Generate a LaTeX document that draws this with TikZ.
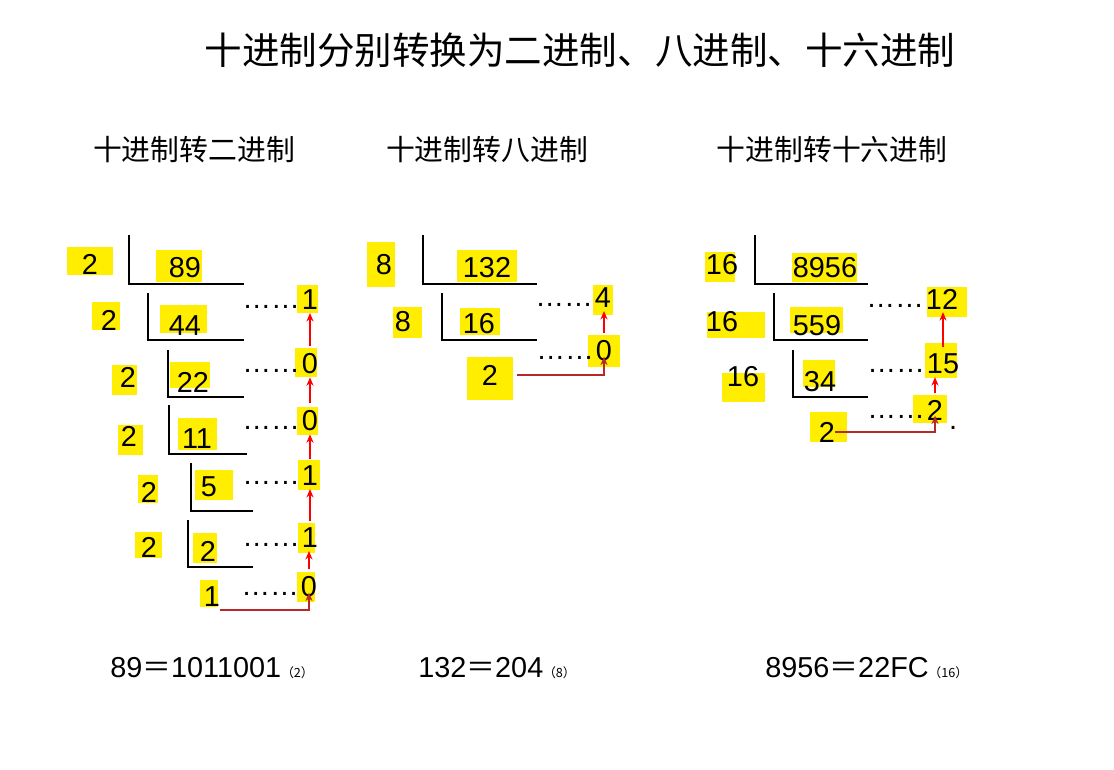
\documentclass[tikz,border=0pt]{standalone}
\usepackage{fontspec}
\setmainfont{Liberation Sans}
\newfontfamily\cjk{Noto Sans CJK SC}
\usepackage{tikz}
\usetikzlibrary{arrows, arrows.meta, shapes}
\definecolor{marker}{RGB}{255,238,0}
\definecolor{backline}{RGB}{185,40,40}
\newcommand{\numsize}{\fontsize{20.5}{24}\selectfont}
\newcommand{\basesize}{\cjk\fontsize{9}{10}\selectfont}

\begin{document}
\begin{tikzpicture}[x=0.025cm, y=-0.025cm]
		\tikzstyle{every node} = [font = \numsize, inner sep = 0pt]
		\tikzstyle{marked} = [fill = marker]
		\tikzstyle{bracket} = [draw, line width = 1pt]
		\tikzstyle{dotsleft} = [anchor = base east, xshift = -1pt, yshift = 1pt]
		\tikzstyle{uparrow} = [draw, -{Stealth[length = 6pt, width = 5pt]}, red, line width = 1pt, shorten <= 5pt, shorten >= 2pt]
		\tikzstyle{backarrow} = [draw, -{Stealth[length = 6pt, width = 5pt]}, backline, line width = 1pt, shorten >= 4pt]
		\useasboundingbox (0,0) rectangle (1114,770);
		% yellow marks
		\foreach \xa/\ya/\xb/\yb in {67/247/113/275, 156/250/202/282, 92/302/120/330, 160/305/207/333,
				297/285/318/313, 112/365/137/395, 170/362/210/388, 295/348/317/377, 118/425/143/455,
				178/418/217/450, 297/407/318/435, 138/475/158/503, 195/470/233/500, 298/460/320/490,
				135/532/162/558, 193/533/217/563, 298/523/315/553, 200/580/218/607, 297/572/315/602,
				367/242/395/287, 457/250/517/282, 393/307/422/338, 460/308/500/335, 593/285/613/315,
				588/335/620/367, 467/357/513/400,
				705/252/735/282, 792/253/857/282, 707/312/765/338, 790/307/843/333, 927/287/967/317,
				722/373/765/402, 803/360/835/387, 925/343/957/378, 913/395/947/423, 810/412/847/442}
			\path[marked] (\xa,\ya) rectangle (\xb,\yb);
		% titles
		\node (title) at (580,50) {\cjk\fontsize{26.7}{30}\selectfont 十进制分别转换为二进制、八进制、十六进制};
		\node (btitle) at (194,150) {\cjk 十进制转二进制};
		\node (otitle) at (487,150) {\cjk 十进制转八进制};
		\node (htitle) at (832,150) {\cjk 十进制转十六进制};
		% brackets
		\path[bracket] (129,235) |- (244,284);
		\path[bracket] (148,293) |- (244,340);
		\path[bracket] (168,350) |- (244,397);
		\path[bracket] (169,405) |- (247,454);
		\path[bracket] (191,463) |- (253,511);
		\path[bracket] (188,520) |- (253,567);
		\path[bracket] (423,235) |- (537,284);
		\path[bracket] (442,293) |- (537,340);
		\path[bracket] (755,235) |- (868,284);
		\path[bracket] (774,293) |- (868,340);
		\path[bracket] (793,350) |- (868,397);
		% decimal to binary
		\node (bd1) at (90,264) {2};
		\node (bd2) at (109,320) {2};
		\node (bd3) at (128,377) {2};
		\node (bd4) at (129,436) {2};
		\node (bd5) at (149,492) {2};
		\node (bd6) at (149,547) {2};
		\node (bq1) at (185,268) {89};
		\node (bq2) at (185,326) {44};
		\node (bq3) at (193,382) {22};
		\node (bq4) at (197,439) {11};
		\node (bq5) at (209,487) {5};
		\node (bq6) at (208,551) {2};
		\node (bq7) at (212,597) {1};
		\node (br1) at (310,300) {1};
		\node (br2) at (310,364) {0};
		\node (br3) at (310,421) {0};
		\node (br4) at (310,476) {1};
		\node (br5) at (310,538) {1};
		\node (br6) at (309,587) {0};
		% decimal to octal
		\node (od1) at (384,265) {8};
		\node (od2) at (403,322) {8};
		\node (oq1) at (487,268) {132};
		\node (oq2) at (479,324) {16};
		\node (oq3) at (490,375) {2};
		\node (or1) at (603,298) {4};
		\node (or2) at (604,351) {0};
		% decimal to hexadecimal
		\node (hd1) at (722,265) {16};
		\node (hd2) at (722,322) {16};
		\node (hd3) at (743,377) {16};
		\node (hq1) at (825,268) {8956};
		\node (hq2) at (817,326) {559};
		\node (hq3) at (820,382) {34};
		\node (hq4) at (827,432) {2};
		\node (hr1) at (942,299) {12};
		\node (hr2) at (943,364) {15};
		\node (hr3) at (935,410) {2};
		\node (hstray) at (953,428) {.};
		% dots before the remainders
		\foreach \r in {br1, br2, br3, br4, br5, br6, or1, or2, hr1, hr2, hr3}
			\node[dotsleft] (dots-\r) at (\r.base west) {……};
		% remainders read upwards
		\foreach \lo/\hi in {br2/br1, br3/br2, br4/br3, br5/br4, br6/br5, or2/or1, hr2/hr1, hr3/hr2}
			\path[uparrow] (\lo.north) -- (\lo.north |- \hi.south);
		\path[backarrow] ([yshift = -2pt]bq7.south east) -| (br6.center);
		\path[backarrow, shorten <= 13pt] (oq3.east) -| (or2.center);
		\path[backarrow] (hq4.east) -| (hr3.center);
		% results
		\node[anchor = base west] (bsum) at (110,677) {89{\cjk ＝}1011001{\basesize （2）}};
		\node[anchor = base west] (osum) at (418,677) {132{\cjk ＝}204{\basesize （8）}};
		\node[anchor = base west] (hsum) at (765,677) {8956{\cjk ＝}22FC{\basesize （16）}};
\end{tikzpicture}
\end{document}
